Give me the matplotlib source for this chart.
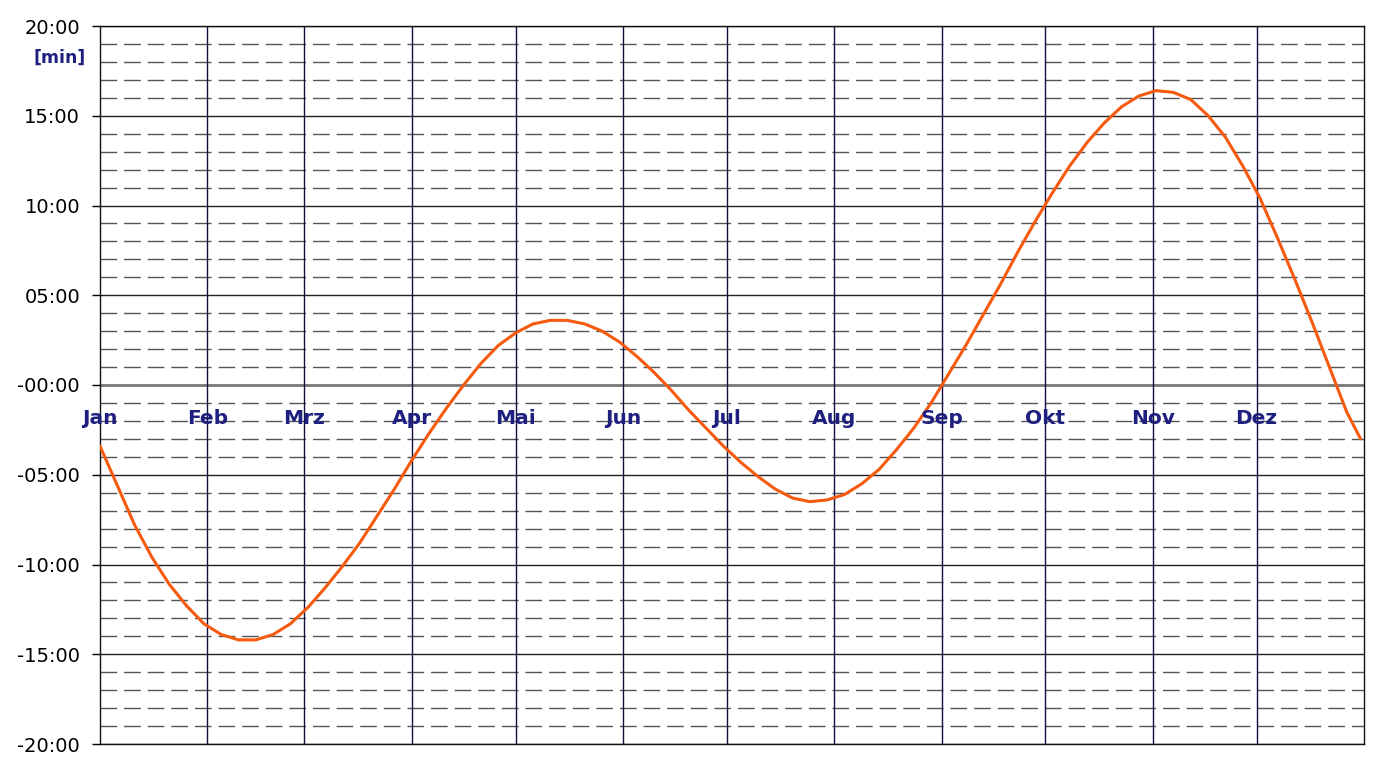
import matplotlib
matplotlib.use("Agg")
import matplotlib.pyplot as plt
import numpy as np

# Equation of time (minutes), read every 5 days from Jan 1 (day 0) plus Dec 31
days = list(range(0, 361, 5)) + [364]
eot = [-3.4, -5.6, -7.8, -9.6, -11.1, -12.3, -13.3,
       -13.9, -14.2, -14.2, -13.9, -13.3,
       -12.4, -11.3, -10.1, -8.8, -7.3, -5.8,
       -4.2, -2.7, -1.3, 0.0, 1.2, 2.2,
       2.9, 3.4, 3.6, 3.6, 3.4, 3.0, 2.4,
       1.6, 0.7, -0.3, -1.4, -2.4, -3.4,
       -4.3, -5.1, -5.8, -6.3, -6.5, -6.4,
       -6.1, -5.5, -4.7, -3.6, -2.4, -1.0,
       0.6, 2.2, 3.9, 5.6, 7.4, 9.1,
       10.7, 12.2, 13.5, 14.6, 15.5, 16.1,
       16.4, 16.3, 15.9, 15.0, 13.8, 12.2,
       10.4, 8.2, 5.9, 3.5, 1.0, -1.5,
       -3.0]

months = ["Jan", "Feb", "Mrz", "Apr", "Mai", "Jun", "Jul", "Aug", "Sep", "Okt", "Nov", "Dez"]
month_start = [0, 31, 59, 90, 120, 151, 181, 212, 243, 273, 304, 334]
yticks = [20, 15, 10, 5, 0, -5, -10, -15, -20]
ylabels = ["20:00", "15:00", "10:00", "05:00", "-00:00", "-05:00", "-10:00", "-15:00", "-20:00"]

navy = "#1f1f80"
W, H = 1397, 769
fig = plt.figure(figsize=(W / 100, H / 100), dpi=100)
ax = fig.add_axes([100 / W, 1 - 744 / H, 1264 / W, 718 / H])
ax.set_xlim(0, 365)
ax.set_ylim(-20, 20)

# minor dashed grid lines every minute
for m in range(-19, 20):
    if m % 5 != 0:
        ax.axhline(m, color="#555555", lw=1.0, dashes=(12, 5), zorder=1)
# major lines
for m in yticks:
    if m == 0:
        ax.axhline(m, color="#777777", lw=2.0, zorder=2)
    else:
        ax.axhline(m, color="#222222", lw=1.0, zorder=2)
# month lines
for d in month_start[1:]:
    ax.axvline(d, color="#101040", lw=1.0, zorder=2)

ax.plot(days, eot, color="#f55a0f", lw=2.2, zorder=4,
        solid_capstyle="round", solid_joinstyle="round")

for name, d in zip(months, month_start):
    ax.text(d, -1.85, name, ha="center", va="center", color=navy,
            fontsize=14.5, fontweight="bold", zorder=5, clip_on=False)

ax.set_yticks(yticks)
ax.set_yticklabels(ylabels, fontsize=14)
ax.tick_params(axis="y", length=5.8, width=1, pad=8.6, direction="out")
ax.set_xticks([])
for s in ["left", "right", "top", "bottom"]:
    ax.spines[s].set_color("#111111")
    ax.spines[s].set_linewidth(1.0)

fig.text(86 / W, 1 - 58 / H, "[min]", ha="right", va="center", color=navy,
         fontsize=12.5, fontweight="bold")

fig.savefig("out.png", dpi=100, facecolor="white")
